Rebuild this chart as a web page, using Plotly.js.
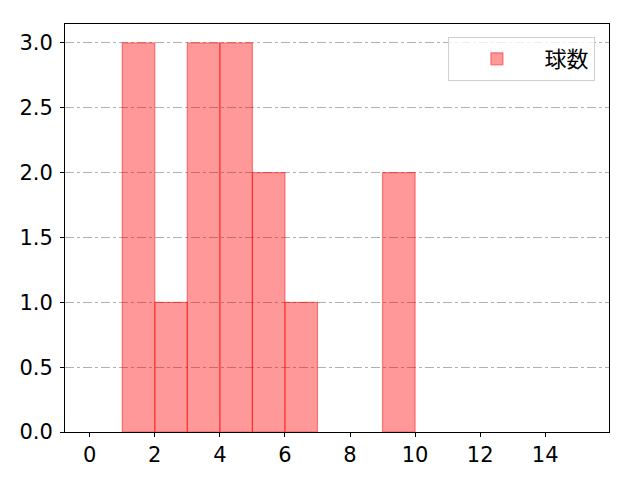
<!DOCTYPE html>
<html><head><meta charset="utf-8">
<script src="https://cdn.plot.ly/plotly-3.0.1.min.js"></script>
<style>body{margin:0}#c{width:640px;height:480px}</style>
</head><body><div id="c"></div>
<script>
const binLefts = [1, 2, 3, 4, 5, 6, 9];
const counts = [3, 1, 3, 3, 2, 1, 2];
const seriesName = '球数';
const xTicks = [0, 2, 4, 6, 8, 10, 12, 14];
const yTicks = [0, 0.5, 1, 1.5, 2, 2.5, 3];

const trace = {
  type: 'bar', x: binLefts, y: counts, name: seriesName,
  width: 1, offset: 0,
  marker: {color: 'rgba(255,0,0,0.4)', line: {color: 'rgba(255,0,0,0.45)', width: 1.2}},
  showlegend: true
};
const font = {family: '"DejaVu Sans", sans-serif', size: 21, color: '#000'};
const layout = {
  width: 640, height: 480,
  margin: {l: 65, r: 31, t: 24, b: 48},
  paper_bgcolor: '#fff', plot_bgcolor: '#fff',
  font: font,
  bargap: 0,
  xaxis: {range: [-0.76, 15.96], tickvals: xTicks, ticktext: xTicks.map(String),
    showgrid: false, zeroline: false, showline: true, mirror: true, linecolor: '#000', linewidth: 1,
    ticks: 'outside', ticklen: 4, tickcolor: '#000', tickfont: font},
  yaxis: {range: [0, 3.146], tickvals: yTicks, ticktext: yTicks.map(v => v.toFixed(1)),
    showgrid: true, gridcolor: '#b0b0b0', griddash: 'dashdot', gridwidth: 1,
    zeroline: false, showline: true, mirror: true, linecolor: '#000', linewidth: 1,
    ticks: 'outside', ticklen: 4, tickcolor: '#000', tickfont: font, ticklabelstandoff: 3},
  legend: {x: 0.975, y: 0.968, xanchor: 'right', yanchor: 'top',
    bgcolor: 'rgba(255,255,255,0.8)', bordercolor: '#d0d0d0', borderwidth: 1,
    itemwidth: 85,
    font: {family: '"Noto Sans CJK JP", sans-serif', size: 22, color: '#000'}}
};
Plotly.newPlot('c', [trace], layout, {displayModeBar: false, staticPlot: true});
</script></body></html>
